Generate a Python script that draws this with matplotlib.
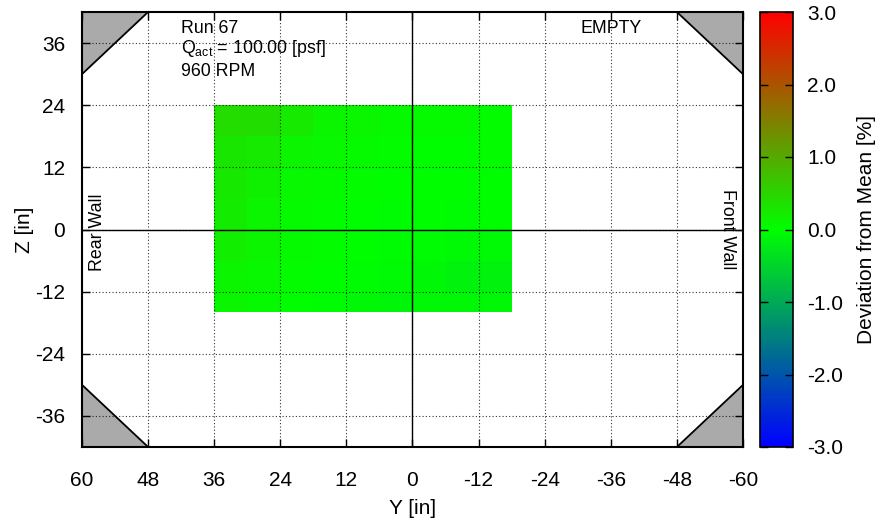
import numpy as np
import matplotlib
matplotlib.use("Agg")
import matplotlib.pyplot as plt
from matplotlib.colors import LinearSegmentedColormap

plt.rcParams["font.family"] = ["Liberation Sans", "DejaVu Sans"]
plt.rcParams["mathtext.fontset"] = "custom"
plt.rcParams["mathtext.rm"] = "Liberation Sans"
plt.rcParams["mathtext.it"] = "Liberation Sans"
plt.rcParams["mathtext.default"] = "regular"
plt.rcParams["axes.unicode_minus"] = False

# ── data ────────────────────────────────────────────────────────────────
# cell edges of the measured grid [in]
Y_EDGES = [36, 30, 24, 18, 12, 6, 0, -6, -12, -18]
Z_EDGES = [24, 18, 12, 6, 0, -6, -12, -16]

# deviation from mean [%], rows top (Z=24) -> bottom, cols Y=36 -> -18
DEVIATION = [
    [0.40, 0.38, 0.24, 0.12, 0.10, 0.06, 0.05, 0.05, 0.04],
    [0.30, 0.24, 0.12, 0.08, 0.05, 0.03, 0.02, 0.02, 0.03],
    [0.26, 0.18, 0.08, 0.05, 0.03, 0.00, 0.00, 0.00, 0.02],
    [0.22, 0.14, 0.05, 0.03, 0.00, -0.03, -0.02, -0.03, -0.02],
    [0.20, 0.12, 0.05, 0.03, 0.00, -0.03, -0.04, -0.05, -0.05],
    [0.14, 0.08, 0.03, 0.00, -0.03, -0.05, -0.08, -0.16, -0.16],
    [0.10, 0.05, 0.00, -0.03, -0.08, -0.10, -0.08, -0.08, -0.08],
]

Y_TICKS = [60, 48, 36, 24, 12, 0, -12, -24, -36, -48, -60]
Z_TICKS = [-36, -24, -12, 0, 12, 24, 36]
CB_TICKS = [-3.0, -2.0, -1.0, 0.0, 1.0, 2.0, 3.0]

RUN_ID = 67
Q_ACT = 100.00
RPM = 960
CONFIG = "EMPTY"

Y_HALF = 60      # half test-section width [in]
Z_HALF = 42      # half test-section height [in]
FILLET = 12      # corner fillet leg [in]

TICK_FS = 15
LABEL_FS = 15
NOTE_FS = 12.8

# ── figure ──────────────────────────────────────────────────────────────
fig = plt.figure(figsize=(8.77, 5.21), dpi=100)
ax = fig.add_axes([82 / 877, 1 - 447 / 521, 661 / 877, 435 / 521])
cax = fig.add_axes([760 / 877, 1 - 447 / 521, 33 / 877, 435 / 521])

cmap = LinearSegmentedColormap.from_list("bgr", ["#0000ff", "#00ff00", "#ff0000"])

mesh = ax.pcolormesh(Y_EDGES, Z_EDGES, np.array(DEVIATION), cmap=cmap,
                     vmin=-3, vmax=3, shading="flat", zorder=1)

# corner fillets
for sy in (1, -1):
    for sz in (1, -1):
        ys = [sy * Y_HALF, sy * (Y_HALF - FILLET), sy * Y_HALF]
        zs = [sz * Z_HALF, sz * Z_HALF, sz * (Z_HALF - FILLET)]
        ax.fill(ys, zs, facecolor="#aaaaaa", edgecolor="black",
                linewidth=1.3, zorder=2, clip_on=False)

ax.set_xlim(Y_HALF, -Y_HALF)
ax.set_ylim(-Z_HALF, Z_HALF)
ax.set_xticks(Y_TICKS)
ax.set_yticks(Z_TICKS)
ax.grid(True, linestyle=(0, (1, 2)), color="black", linewidth=0.8, alpha=0.8, zorder=3)
ax.set_axisbelow(False)
ax.axhline(0, color="black", linewidth=1.0, zorder=4)
ax.axvline(0, color="black", linewidth=1.0, zorder=4)

ax.tick_params(axis="both", direction="in", length=6, width=1.0,
               top=True, right=True, labelsize=TICK_FS)
ax.tick_params(axis="x", pad=17)
ax.tick_params(axis="y", pad=12)
for sp in ax.spines.values():
    sp.set_linewidth(1.5)
    sp.set_zorder(5)

ax.set_xlabel("Y [in]", fontsize=LABEL_FS, labelpad=7)
ax.set_ylabel("Z [in]", fontsize=LABEL_FS, labelpad=1)

ax.text(42, 37.9, f"Run {RUN_ID}", fontsize=NOTE_FS, va="baseline", ha="left", zorder=6)
ax.text(42, 34.0, f"Q$_{{act}}$ = {Q_ACT:.2f} [psf]", fontsize=NOTE_FS,
        va="baseline", ha="left", zorder=6)
ax.text(42, 29.6, f"{RPM} RPM", fontsize=NOTE_FS, va="baseline", ha="left", zorder=6)
ax.text(-36, 37.9, CONFIG, fontsize=NOTE_FS, va="baseline", ha="center", zorder=6)
ax.text(57.2, -0.6, "Rear Wall", fontsize=NOTE_FS, rotation=90,
        va="center", ha="center", zorder=6)
ax.text(-57.2, 0, "Front Wall", fontsize=NOTE_FS, rotation=-90,
        va="center", ha="center", zorder=6)

# colorbar
cb = fig.colorbar(mesh, cax=cax, ticks=CB_TICKS)
cb.ax.set_yticklabels([f"{v:.1f}" for v in CB_TICKS])
cb.ax.tick_params(direction="in", length=6, width=1.0, left=True, right=True,
                  labelsize=TICK_FS, pad=10)
cb.outline.set_linewidth(1.2)
cb.set_label("Deviation from Mean [%]", fontsize=LABEL_FS, labelpad=10)

fig.savefig("out.png", dpi=100)
